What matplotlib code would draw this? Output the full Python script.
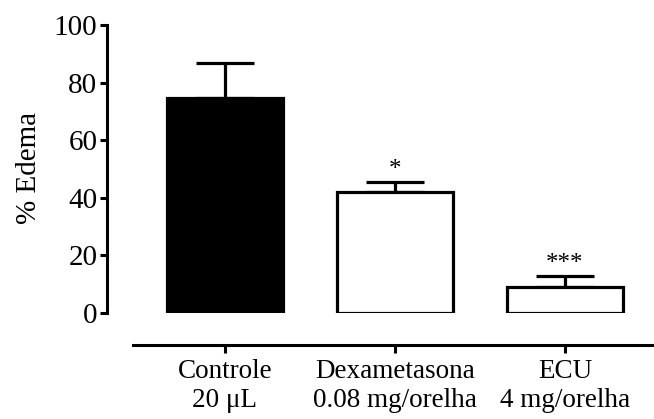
import matplotlib.pyplot as plt

plt.rcParams['font.family'] = ['Liberation Serif', 'DejaVu Serif']

groups = ["Controle\n20 μL", "Dexametasona\n0.08 mg/orelha", "ECU\n4 mg/orelha"]
edema = [74.6, 42.0, 9.0]
erro = [12.2, 3.5, 3.8]
signif = ["", "*", "***"]
cores = ["black", "white", "white"]

fig = plt.figure(figsize=(6.54, 4.19), dpi=100)
ax = fig.add_axes([0.1636, 0.2530, 0.8333, 0.6874])

pos = list(range(len(groups)))
ax.bar(pos, edema, width=0.68, color=cores, edgecolor="black", linewidth=2.3, zorder=2)
ax.errorbar(pos, edema, yerr=[[0] * len(erro), erro], fmt="none", ecolor="black",
            elinewidth=2.3, capsize=21, capthick=2.3, zorder=1)

for x, y, e, s in zip(pos, edema, erro, signif):
    if s:
        ax.annotate(s, (x, y + e), xytext=(0, 1), textcoords="offset points",
                    ha="center", va="bottom", fontsize=18)

ax.set_xlim(-0.694, 2.512)
ax.set_ylim(0, 100)
ax.set_yticks([0, 20, 40, 60, 80, 100])
ax.set_xticks(pos)
ax.set_xticklabels(groups, linespacing=1.35)

for side in ["top", "right"]:
    ax.spines[side].set_visible(False)
ax.spines["left"].set_linewidth(2.2)
ax.spines["left"].set_bounds(0, 100)
ax.spines["bottom"].set_linewidth(2.2)
ax.spines["bottom"].set_position(("outward", 23))
ax.spines["bottom"].set_bounds(-0.541, 2.512)

ax.tick_params(axis="y", length=5, width=2.2, pad=2, labelsize=21)
ax.tick_params(axis="x", length=6, width=2.2, pad=4, labelsize=19.5)

ax.set_ylabel("% Edema", fontsize=21)
ax.yaxis.set_label_coords(-0.12, 0.503)

fig.savefig("out.png", dpi=100)
